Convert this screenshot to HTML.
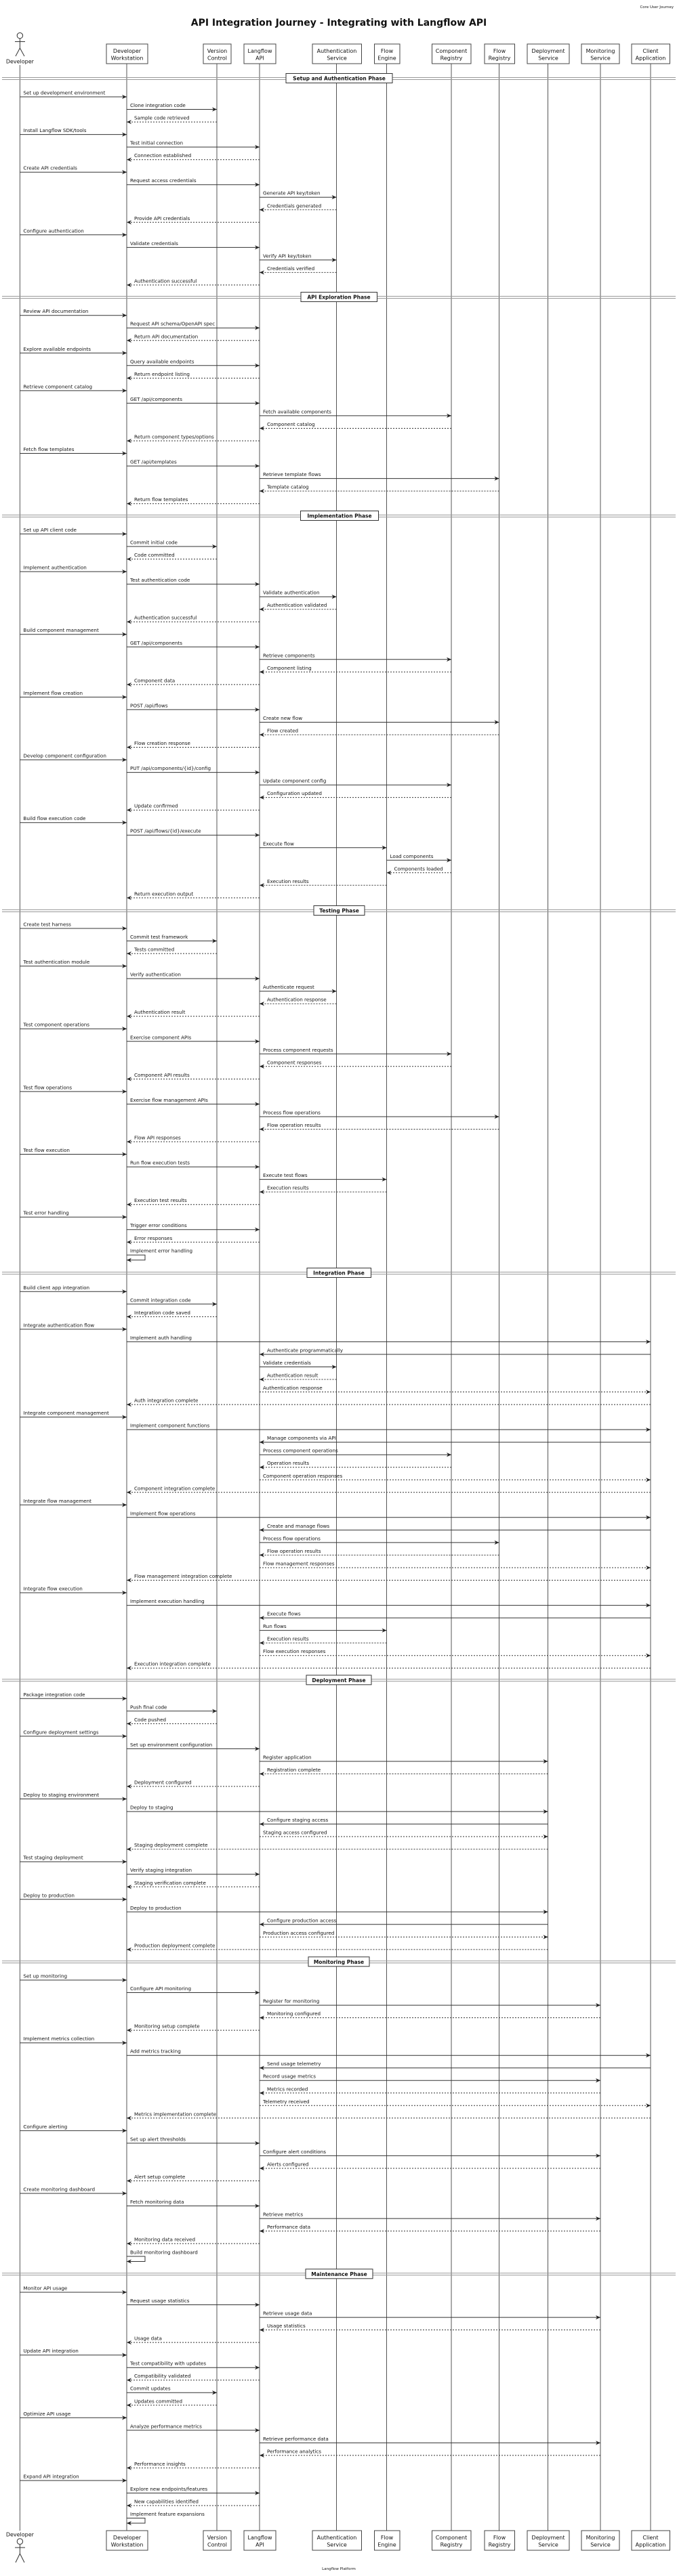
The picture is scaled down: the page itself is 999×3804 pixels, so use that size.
<!DOCTYPE html>
<html><head><meta charset="utf-8"><style>
html,body{margin:0;padding:0;background:#fff;}
svg{display:block;font-family:"DejaVu Sans","Liberation Sans",sans-serif;}
.s{stroke:#333;stroke-width:1;marker-end:url(#a);}
.d{stroke:#333;stroke-width:1;stroke-dasharray:2,2;marker-end:url(#a);}
.ll{stroke:#555;stroke-width:1;}
text{font-size:7.2px;fill:#111;}
.pb{fill:#fff;stroke:#444;stroke-width:1;}
.pt{font-size:8px;text-anchor:middle;}
.sp{stroke:#999;stroke-width:1;}
.sb{fill:#fff;stroke:#333;stroke-width:1;}
.st{font-size:7.5px;font-weight:bold;text-anchor:middle;}
.self{fill:none;stroke:#333;stroke-width:1;marker-end:url(#a);}
</style></head><body>
<svg width="999" height="3804" viewBox="0 0 999 3804" xmlns="http://www.w3.org/2000/svg">
<defs><marker id="a" viewBox="0 0 10 10" refX="10" refY="5" markerWidth="7" markerHeight="7" markerUnits="userSpaceOnUse" orient="auto"><path d="M0,0.5 L10,5 L0,9.5 L3,5 z" fill="#222"/></marker></defs>
<text x="994" y="12" style="font-size:5.5px" text-anchor="end">Core User Journey</text>
<text x="500" y="38" style="font-size:14px;font-weight:bold" text-anchor="middle">API Integration Journey - Integrating with Langflow API</text>

<!-- lifelines -->
<line class="ll" x1="29.4" y1="96" x2="29.4" y2="3737"/>
<line class="ll" x1="187" y1="94" x2="187" y2="3737"/>
<line class="ll" x1="320" y1="94" x2="320" y2="3737"/>
<line class="ll" x1="383" y1="94" x2="383" y2="3737"/>
<line class="ll" x1="496.5" y1="94" x2="496.5" y2="3737"/>
<line class="ll" x1="570.5" y1="94" x2="570.5" y2="3737"/>
<line class="ll" x1="666" y1="94" x2="666" y2="3737"/>
<line class="ll" x1="736.5" y1="94" x2="736.5" y2="3737"/>
<line class="ll" x1="808.5" y1="94" x2="808.5" y2="3737"/>
<line class="ll" x1="886" y1="94" x2="886" y2="3737"/>
<line class="ll" x1="960" y1="94" x2="960" y2="3737"/>

<!-- top participants -->
<g>
<circle cx="29.4" cy="52.6" r="4.2" fill="#fff" stroke="#333"/>
<line x1="29.4" y1="56.8" x2="29.4" y2="71" stroke="#333"/>
<line x1="22" y1="61.5" x2="37" y2="61.5" stroke="#333"/>
<line x1="29.4" y1="71" x2="23" y2="83" stroke="#333"/>
<line x1="29.4" y1="71" x2="36" y2="83" stroke="#333"/>
<text class="pt" x="29.4" y="93.5">Developer</text>
<rect class="pb" x="157" y="65" width="61" height="29"/><text class="pt" x="187.5" y="78">Developer</text><text class="pt" x="187.5" y="88.5">Workstation</text>
<rect class="pb" x="300" y="65" width="41" height="29"/><text class="pt" x="320.5" y="78">Version</text><text class="pt" x="320.5" y="88.5">Control</text>
<rect class="pb" x="360" y="65" width="47" height="29"/><text class="pt" x="383.5" y="78">Langflow</text><text class="pt" x="383.5" y="88.5">API</text>
<rect class="pb" x="461" y="65" width="72.5" height="29"/><text class="pt" x="497" y="78">Authentication</text><text class="pt" x="497" y="88.5">Service</text>
<rect class="pb" x="552.5" y="65" width="37.5" height="29"/><text class="pt" x="571" y="78">Flow</text><text class="pt" x="571" y="88.5">Engine</text>
<rect class="pb" x="637.5" y="65" width="57.5" height="29"/><text class="pt" x="666" y="78">Component</text><text class="pt" x="666" y="88.5">Registry</text>
<rect class="pb" x="715" y="65" width="44.5" height="29"/><text class="pt" x="737" y="78">Flow</text><text class="pt" x="737" y="88.5">Registry</text>
<rect class="pb" x="778" y="65" width="62" height="29"/><text class="pt" x="809" y="78">Deployment</text><text class="pt" x="809" y="88.5">Service</text>
<rect class="pb" x="858" y="65" width="56" height="29"/><text class="pt" x="886" y="78">Monitoring</text><text class="pt" x="886" y="88.5">Service</text>
<rect class="pb" x="932" y="65" width="56.5" height="29"/><text class="pt" x="960" y="78">Client</text><text class="pt" x="960" y="88.5">Application</text>
</g>

<!-- separators -->
<g>
<line class="sp" x1="3" y1="114.5" x2="997" y2="114.5"/><line class="sp" x1="3" y1="117.5" x2="997" y2="117.5"/>
<rect class="sb" x="422" y="108.5" width="157" height="14"/><text class="st" x="500.5" y="118.5">Setup and Authentication Phase</text>
<line class="sp" x1="3" y1="437.5" x2="997" y2="437.5"/><line class="sp" x1="3" y1="440.5" x2="997" y2="440.5"/>
<rect class="sb" x="444" y="431.5" width="112.5" height="14"/><text class="st" x="500" y="441.5">API Exploration Phase</text>
<line class="sp" x1="3" y1="760.5" x2="997" y2="760.5"/><line class="sp" x1="3" y1="763.5" x2="997" y2="763.5"/>
<rect class="sb" x="443.5" y="754.5" width="115" height="14"/><text class="st" x="501" y="764.5">Implementation Phase</text>
<line class="sp" x1="3" y1="1343.5" x2="997" y2="1343.5"/><line class="sp" x1="3" y1="1346.5" x2="997" y2="1346.5"/>
<rect class="sb" x="463" y="1337.5" width="75" height="14"/><text class="st" x="500.5" y="1347.5">Testing Phase</text>
<line class="sp" x1="3" y1="1878.5" x2="997" y2="1878.5"/><line class="sp" x1="3" y1="1881.5" x2="997" y2="1881.5"/>
<rect class="sb" x="453" y="1872.5" width="94.5" height="14"/><text class="st" x="500" y="1882.5">Integration Phase</text>
<line class="sp" x1="3" y1="2479.8" x2="997" y2="2479.8"/><line class="sp" x1="3" y1="2482.8" x2="997" y2="2482.8"/>
<rect class="sb" x="452" y="2473.8" width="96" height="14"/><text class="st" x="500" y="2483.8">Deployment Phase</text>
<line class="sp" x1="3" y1="2895.8" x2="997" y2="2895.8"/><line class="sp" x1="3" y1="2898.8" x2="997" y2="2898.8"/>
<rect class="sb" x="455" y="2889.8" width="90" height="14"/><text class="st" x="500" y="2899.8">Monitoring Phase</text>
<line class="sp" x1="3" y1="3356.8" x2="997" y2="3356.8"/><line class="sp" x1="3" y1="3359.8" x2="997" y2="3359.8"/>
<rect class="sb" x="451" y="3350.8" width="99" height="14"/><text class="st" x="500.5" y="3360.8">Maintenance Phase</text>
</g>

<!-- Setup -->
<line class="s" x1="29.4" y1="143" x2="187" y2="143"/><text x="34.4" y="139.5">Set up development environment</text>
<line class="s" x1="187" y1="161.5" x2="320" y2="161.5"/><text x="192" y="158">Clone integration code</text>
<line class="d" x1="320" y1="180.1" x2="187" y2="180.1"/><text x="198" y="176.6">Sample code retrieved</text>
<line class="s" x1="29.4" y1="198.6" x2="187" y2="198.6"/><text x="34.4" y="195.1">Install Langflow SDK/tools</text>
<line class="s" x1="187" y1="217.1" x2="383" y2="217.1"/><text x="192" y="213.6">Test initial connection</text>
<line class="d" x1="383" y1="235.7" x2="187" y2="235.7"/><text x="198" y="232.2">Connection established</text>
<line class="s" x1="29.4" y1="254.2" x2="187" y2="254.2"/><text x="34.4" y="250.7">Create API credentials</text>
<line class="s" x1="187" y1="272.7" x2="383" y2="272.7"/><text x="192" y="269.2">Request access credentials</text>
<line class="s" x1="383" y1="291.2" x2="496.5" y2="291.2"/><text x="388" y="287.7">Generate API key/token</text>
<line class="d" x1="496.5" y1="309.8" x2="383" y2="309.8"/><text x="394" y="306.3">Credentials generated</text>
<line class="d" x1="383" y1="328.3" x2="187" y2="328.3"/><text x="198" y="324.8">Provide API credentials</text>
<line class="s" x1="29.4" y1="346.8" x2="187" y2="346.8"/><text x="34.4" y="343.3">Configure authentication</text>
<line class="s" x1="187" y1="365.4" x2="383" y2="365.4"/><text x="192" y="361.9">Validate credentials</text>
<line class="s" x1="383" y1="383.9" x2="496.5" y2="383.9"/><text x="388" y="380.4">Verify API key/token</text>
<line class="d" x1="496.5" y1="402.4" x2="383" y2="402.4"/><text x="394" y="398.9">Credentials verified</text>
<line class="d" x1="383" y1="420.9" x2="187" y2="420.9"/><text x="198" y="417.4">Authentication successful</text>

<!-- Exploration -->
<line class="s" x1="29.4" y1="465.7" x2="187" y2="465.7"/><text x="34.4" y="462.2">Review API documentation</text>
<line class="s" x1="187" y1="484.2" x2="383" y2="484.2"/><text x="192" y="480.7">Request API schema/OpenAPI spec</text>
<line class="d" x1="383" y1="502.8" x2="187" y2="502.8"/><text x="198" y="499.3">Return API documentation</text>
<line class="s" x1="29.4" y1="521.3" x2="187" y2="521.3"/><text x="34.4" y="517.8">Explore available endpoints</text>
<line class="s" x1="187" y1="539.8" x2="383" y2="539.8"/><text x="192" y="536.3">Query available endpoints</text>
<line class="d" x1="383" y1="558.4" x2="187" y2="558.4"/><text x="198" y="554.9">Return endpoint listing</text>
<line class="s" x1="29.4" y1="576.9" x2="187" y2="576.9"/><text x="34.4" y="573.4">Retrieve component catalog</text>
<line class="s" x1="187" y1="595.4" x2="383" y2="595.4"/><text x="192" y="591.9">GET /api/components</text>
<line class="s" x1="383" y1="613.9" x2="666" y2="613.9"/><text x="388" y="610.4">Fetch available components</text>
<line class="d" x1="666" y1="632.5" x2="383" y2="632.5"/><text x="394" y="629">Component catalog</text>
<line class="d" x1="383" y1="651" x2="187" y2="651"/><text x="198" y="647.5">Return component types/options</text>
<line class="s" x1="29.4" y1="669.5" x2="187" y2="669.5"/><text x="34.4" y="666">Fetch flow templates</text>
<line class="s" x1="187" y1="688.1" x2="383" y2="688.1"/><text x="192" y="684.6">GET /api/templates</text>
<line class="s" x1="383" y1="706.6" x2="736.5" y2="706.6"/><text x="388" y="703.1">Retrieve template flows</text>
<line class="d" x1="736.5" y1="725.1" x2="383" y2="725.1"/><text x="394" y="721.6">Template catalog</text>
<line class="d" x1="383" y1="743.7" x2="187" y2="743.7"/><text x="198" y="740.2">Return flow templates</text>

<!-- Implementation -->
<line class="s" x1="29.4" y1="788.5" x2="187" y2="788.5"/><text x="34.4" y="785">Set up API client code</text>
<line class="s" x1="187" y1="807" x2="320" y2="807"/><text x="192" y="803.5">Commit initial code</text>
<line class="d" x1="320" y1="825.6" x2="187" y2="825.6"/><text x="198" y="822.1">Code committed</text>
<line class="s" x1="29.4" y1="844.1" x2="187" y2="844.1"/><text x="34.4" y="840.6">Implement authentication</text>
<line class="s" x1="187" y1="862.6" x2="383" y2="862.6"/><text x="192" y="859.1">Test authentication code</text>
<line class="s" x1="383" y1="881.2" x2="496.5" y2="881.2"/><text x="388" y="877.7">Validate authentication</text>
<line class="d" x1="496.5" y1="899.7" x2="383" y2="899.7"/><text x="394" y="896.2">Authentication validated</text>
<line class="d" x1="383" y1="918.2" x2="187" y2="918.2"/><text x="198" y="914.7">Authentication successful</text>
<line class="s" x1="29.4" y1="936.7" x2="187" y2="936.7"/><text x="34.4" y="933.2">Build component management</text>
<line class="s" x1="187" y1="955.3" x2="383" y2="955.3"/><text x="192" y="951.8">GET /api/components</text>
<line class="s" x1="383" y1="973.8" x2="666" y2="973.8"/><text x="388" y="970.3">Retrieve components</text>
<line class="d" x1="666" y1="992.3" x2="383" y2="992.3"/><text x="394" y="988.8">Component listing</text>
<line class="d" x1="383" y1="1010.9" x2="187" y2="1010.9"/><text x="198" y="1007.4">Component data</text>
<line class="s" x1="29.4" y1="1029.4" x2="187" y2="1029.4"/><text x="34.4" y="1025.9">Implement flow creation</text>
<line class="s" x1="187" y1="1047.9" x2="383" y2="1047.9"/><text x="192" y="1044.4">POST /api/flows</text>
<line class="s" x1="383" y1="1066.5" x2="736.5" y2="1066.5"/><text x="388" y="1063">Create new flow</text>
<line class="d" x1="736.5" y1="1085" x2="383" y2="1085"/><text x="394" y="1081.5">Flow created</text>
<line class="d" x1="383" y1="1103.5" x2="187" y2="1103.5"/><text x="198" y="1100">Flow creation response</text>
<line class="s" x1="29.4" y1="1122" x2="187" y2="1122"/><text x="34.4" y="1118.5">Develop component configuration</text>
<line class="s" x1="187" y1="1140.6" x2="383" y2="1140.6"/><text x="192" y="1137.1">PUT /api/components/{id}/config</text>
<line class="s" x1="383" y1="1159.1" x2="666" y2="1159.1"/><text x="388" y="1155.6">Update component config</text>
<line class="d" x1="666" y1="1177.6" x2="383" y2="1177.6"/><text x="394" y="1174.1">Configuration updated</text>
<line class="d" x1="383" y1="1196.2" x2="187" y2="1196.2"/><text x="198" y="1192.7">Update confirmed</text>
<line class="s" x1="29.4" y1="1214.7" x2="187" y2="1214.7"/><text x="34.4" y="1211.2">Build flow execution code</text>
<line class="s" x1="187" y1="1233.2" x2="383" y2="1233.2"/><text x="192" y="1229.7">POST /api/flows/{id}/execute</text>
<line class="s" x1="383" y1="1251.8" x2="570.5" y2="1251.8"/><text x="388" y="1248.3">Execute flow</text>
<line class="s" x1="570.5" y1="1270.3" x2="666" y2="1270.3"/><text x="575.5" y="1266.8">Load components</text>
<line class="d" x1="666" y1="1288.8" x2="570.5" y2="1288.8"/><text x="581.5" y="1285.3">Components loaded</text>
<line class="d" x1="570.5" y1="1307.3" x2="383" y2="1307.3"/><text x="394" y="1303.8">Execution results</text>
<line class="d" x1="383" y1="1325.9" x2="187" y2="1325.9"/><text x="198" y="1322.4">Return execution output</text>

<!-- Testing -->
<line class="s" x1="29.4" y1="1371" x2="187" y2="1371"/><text x="34.4" y="1367.5">Create test harness</text>
<line class="s" x1="187" y1="1389.5" x2="320" y2="1389.5"/><text x="192" y="1386">Commit test framework</text>
<line class="d" x1="320" y1="1408.1" x2="187" y2="1408.1"/><text x="198" y="1404.6">Tests committed</text>
<line class="s" x1="29.4" y1="1426.6" x2="187" y2="1426.6"/><text x="34.4" y="1423.1">Test authentication module</text>
<line class="s" x1="187" y1="1445.1" x2="383" y2="1445.1"/><text x="192" y="1441.6">Verify authentication</text>
<line class="s" x1="383" y1="1463.7" x2="496.5" y2="1463.7"/><text x="388" y="1460.2">Authenticate request</text>
<line class="d" x1="496.5" y1="1482.2" x2="383" y2="1482.2"/><text x="394" y="1478.7">Authentication response</text>
<line class="d" x1="383" y1="1500.7" x2="187" y2="1500.7"/><text x="198" y="1497.2">Authentication result</text>
<line class="s" x1="29.4" y1="1519.2" x2="187" y2="1519.2"/><text x="34.4" y="1515.7">Test component operations</text>
<line class="s" x1="187" y1="1537.8" x2="383" y2="1537.8"/><text x="192" y="1534.3">Exercise component APIs</text>
<line class="s" x1="383" y1="1556.3" x2="666" y2="1556.3"/><text x="388" y="1552.8">Process component requests</text>
<line class="d" x1="666" y1="1574.8" x2="383" y2="1574.8"/><text x="394" y="1571.3">Component responses</text>
<line class="d" x1="383" y1="1593.4" x2="187" y2="1593.4"/><text x="198" y="1589.9">Component API results</text>
<line class="s" x1="29.4" y1="1611.9" x2="187" y2="1611.9"/><text x="34.4" y="1608.4">Test flow operations</text>
<line class="s" x1="187" y1="1630.4" x2="383" y2="1630.4"/><text x="192" y="1626.9">Exercise flow management APIs</text>
<line class="s" x1="383" y1="1649" x2="736.5" y2="1649"/><text x="388" y="1645.5">Process flow operations</text>
<line class="d" x1="736.5" y1="1667.5" x2="383" y2="1667.5"/><text x="394" y="1664">Flow operation results</text>
<line class="d" x1="383" y1="1686" x2="187" y2="1686"/><text x="198" y="1682.5">Flow API responses</text>
<line class="s" x1="29.4" y1="1704.5" x2="187" y2="1704.5"/><text x="34.4" y="1701">Test flow execution</text>
<line class="s" x1="187" y1="1723.1" x2="383" y2="1723.1"/><text x="192" y="1719.6">Run flow execution tests</text>
<line class="s" x1="383" y1="1741.6" x2="570.5" y2="1741.6"/><text x="388" y="1738.1">Execute test flows</text>
<line class="d" x1="570.5" y1="1760.1" x2="383" y2="1760.1"/><text x="394" y="1756.6">Execution results</text>
<line class="d" x1="383" y1="1778.7" x2="187" y2="1778.7"/><text x="198" y="1775.2">Execution test results</text>
<line class="s" x1="29.4" y1="1797.2" x2="187" y2="1797.2"/><text x="34.4" y="1793.7">Test error handling</text>
<line class="s" x1="187" y1="1815.7" x2="383" y2="1815.7"/><text x="192" y="1812.2">Trigger error conditions</text>
<line class="d" x1="383" y1="1834.3" x2="187" y2="1834.3"/><text x="198" y="1830.8">Error responses</text>
<text x="192" y="1849.5">Implement error handling</text>
<path class="self" d="M187,1853.3 H214 V1860.8 H187"/>

<!-- Integration -->
<line class="s" x1="29.4" y1="1907.3" x2="187" y2="1907.3"/><text x="34.4" y="1903.8">Build client app integration</text>
<line class="s" x1="187" y1="1925.8" x2="320" y2="1925.8"/><text x="192" y="1922.3">Commit integration code</text>
<line class="d" x1="320" y1="1944.4" x2="187" y2="1944.4"/><text x="198" y="1940.9">Integration code saved</text>
<line class="s" x1="29.4" y1="1962.9" x2="187" y2="1962.9"/><text x="34.4" y="1959.4">Integrate authentication flow</text>
<line class="s" x1="187" y1="1981.4" x2="960" y2="1981.4"/><text x="192" y="1977.9">Implement auth handling</text>
<line class="s" x1="960" y1="2000" x2="383" y2="2000"/><text x="394" y="1996.5">Authenticate programmatically</text>
<line class="s" x1="383" y1="2018.5" x2="496.5" y2="2018.5"/><text x="388" y="2015">Validate credentials</text>
<line class="d" x1="496.5" y1="2037" x2="383" y2="2037"/><text x="394" y="2033.5">Authentication result</text>
<line class="d" x1="383" y1="2055.5" x2="960" y2="2055.5"/><text x="388" y="2052">Authentication response</text>
<line class="d" x1="960" y1="2074.1" x2="187" y2="2074.1"/><text x="198" y="2070.6">Auth integration complete</text>
<line class="s" x1="29.4" y1="2092.6" x2="187" y2="2092.6"/><text x="34.4" y="2089.1">Integrate component management</text>
<line class="s" x1="187" y1="2111.1" x2="960" y2="2111.1"/><text x="192" y="2107.6">Implement component functions</text>
<line class="s" x1="960" y1="2129.7" x2="383" y2="2129.7"/><text x="394" y="2126.2">Manage components via API</text>
<line class="s" x1="383" y1="2148.2" x2="666" y2="2148.2"/><text x="388" y="2144.7">Process component operations</text>
<line class="d" x1="666" y1="2166.7" x2="383" y2="2166.7"/><text x="394" y="2163.2">Operation results</text>
<line class="d" x1="383" y1="2185.3" x2="960" y2="2185.3"/><text x="388" y="2181.8">Component operation responses</text>
<line class="d" x1="960" y1="2203.8" x2="187" y2="2203.8"/><text x="198" y="2200.3">Component integration complete</text>
<line class="s" x1="29.4" y1="2222.3" x2="187" y2="2222.3"/><text x="34.4" y="2218.8">Integrate flow management</text>
<line class="s" x1="187" y1="2240.8" x2="960" y2="2240.8"/><text x="192" y="2237.3">Implement flow operations</text>
<line class="s" x1="960" y1="2259.4" x2="383" y2="2259.4"/><text x="394" y="2255.9">Create and manage flows</text>
<line class="s" x1="383" y1="2277.9" x2="736.5" y2="2277.9"/><text x="388" y="2274.4">Process flow operations</text>
<line class="d" x1="736.5" y1="2296.4" x2="383" y2="2296.4"/><text x="394" y="2292.9">Flow operation results</text>
<line class="d" x1="383" y1="2315" x2="960" y2="2315"/><text x="388" y="2311.5">Flow management responses</text>
<line class="d" x1="960" y1="2333.5" x2="187" y2="2333.5"/><text x="198" y="2330">Flow management integration complete</text>
<line class="s" x1="29.4" y1="2352" x2="187" y2="2352"/><text x="34.4" y="2348.5">Integrate flow execution</text>
<line class="s" x1="187" y1="2370.6" x2="960" y2="2370.6"/><text x="192" y="2367.1">Implement execution handling</text>
<line class="s" x1="960" y1="2389.1" x2="383" y2="2389.1"/><text x="394" y="2385.6">Execute flows</text>
<line class="s" x1="383" y1="2407.6" x2="570.5" y2="2407.6"/><text x="388" y="2404.1">Run flows</text>
<line class="d" x1="570.5" y1="2426.1" x2="383" y2="2426.1"/><text x="394" y="2422.6">Execution results</text>
<line class="d" x1="383" y1="2444.7" x2="960" y2="2444.7"/><text x="388" y="2441.2">Flow execution responses</text>
<line class="d" x1="960" y1="2463.2" x2="187" y2="2463.2"/><text x="198" y="2459.7">Execution integration complete</text>

<!-- Deployment -->
<line class="s" x1="29.4" y1="2508.3" x2="187" y2="2508.3"/><text x="34.4" y="2504.8">Package integration code</text>
<line class="s" x1="187" y1="2526.8" x2="320" y2="2526.8"/><text x="192" y="2523.3">Push final code</text>
<line class="d" x1="320" y1="2545.4" x2="187" y2="2545.4"/><text x="198" y="2541.9">Code pushed</text>
<line class="s" x1="29.4" y1="2563.9" x2="187" y2="2563.9"/><text x="34.4" y="2560.4">Configure deployment settings</text>
<line class="s" x1="187" y1="2582.4" x2="383" y2="2582.4"/><text x="192" y="2578.9">Set up environment configuration</text>
<line class="s" x1="383" y1="2601" x2="808.5" y2="2601"/><text x="388" y="2597.5">Register application</text>
<line class="d" x1="808.5" y1="2619.5" x2="383" y2="2619.5"/><text x="394" y="2616">Registration complete</text>
<line class="d" x1="383" y1="2638" x2="187" y2="2638"/><text x="198" y="2634.5">Deployment configured</text>
<line class="s" x1="29.4" y1="2656.5" x2="187" y2="2656.5"/><text x="34.4" y="2653">Deploy to staging environment</text>
<line class="s" x1="187" y1="2675.1" x2="808.5" y2="2675.1"/><text x="192" y="2671.6">Deploy to staging</text>
<line class="s" x1="808.5" y1="2693.6" x2="383" y2="2693.6"/><text x="394" y="2690.1">Configure staging access</text>
<line class="d" x1="383" y1="2712.1" x2="808.5" y2="2712.1"/><text x="388" y="2708.6">Staging access configured</text>
<line class="d" x1="808.5" y1="2730.7" x2="187" y2="2730.7"/><text x="198" y="2727.2">Staging deployment complete</text>
<line class="s" x1="29.4" y1="2749.2" x2="187" y2="2749.2"/><text x="34.4" y="2745.7">Test staging deployment</text>
<line class="s" x1="187" y1="2767.7" x2="383" y2="2767.7"/><text x="192" y="2764.2">Verify staging integration</text>
<line class="d" x1="383" y1="2786.3" x2="187" y2="2786.3"/><text x="198" y="2782.8">Staging verification complete</text>
<line class="s" x1="29.4" y1="2804.8" x2="187" y2="2804.8"/><text x="34.4" y="2801.3">Deploy to production</text>
<line class="s" x1="187" y1="2823.3" x2="808.5" y2="2823.3"/><text x="192" y="2819.8">Deploy to production</text>
<line class="s" x1="808.5" y1="2841.8" x2="383" y2="2841.8"/><text x="394" y="2838.3">Configure production access</text>
<line class="d" x1="383" y1="2860.4" x2="808.5" y2="2860.4"/><text x="388" y="2856.9">Production access configured</text>
<line class="d" x1="808.5" y1="2878.9" x2="187" y2="2878.9"/><text x="198" y="2875.4">Production deployment complete</text>

<!-- Monitoring -->
<line class="s" x1="29.4" y1="2924" x2="187" y2="2924"/><text x="34.4" y="2920.5">Set up monitoring</text>
<line class="s" x1="187" y1="2942.5" x2="383" y2="2942.5"/><text x="192" y="2939">Configure API monitoring</text>
<line class="s" x1="383" y1="2961.1" x2="886" y2="2961.1"/><text x="388" y="2957.6">Register for monitoring</text>
<line class="d" x1="886" y1="2979.6" x2="383" y2="2979.6"/><text x="394" y="2976.1">Monitoring configured</text>
<line class="d" x1="383" y1="2998.1" x2="187" y2="2998.1"/><text x="198" y="2994.6">Monitoring setup complete</text>
<line class="s" x1="29.4" y1="3016.7" x2="187" y2="3016.7"/><text x="34.4" y="3013.2">Implement metrics collection</text>
<line class="s" x1="187" y1="3035.2" x2="960" y2="3035.2"/><text x="192" y="3031.7">Add metrics tracking</text>
<line class="s" x1="960" y1="3053.7" x2="383" y2="3053.7"/><text x="394" y="3050.2">Send usage telemetry</text>
<line class="s" x1="383" y1="3072.2" x2="886" y2="3072.2"/><text x="388" y="3068.7">Record usage metrics</text>
<line class="d" x1="886" y1="3090.8" x2="383" y2="3090.8"/><text x="394" y="3087.3">Metrics recorded</text>
<line class="d" x1="383" y1="3109.3" x2="960" y2="3109.3"/><text x="388" y="3105.8">Telemetry received</text>
<line class="d" x1="960" y1="3127.8" x2="187" y2="3127.8"/><text x="198" y="3124.3">Metrics implementation complete</text>
<line class="s" x1="29.4" y1="3146.4" x2="187" y2="3146.4"/><text x="34.4" y="3142.9">Configure alerting</text>
<line class="s" x1="187" y1="3164.9" x2="383" y2="3164.9"/><text x="192" y="3161.4">Set up alert thresholds</text>
<line class="s" x1="383" y1="3183.4" x2="886" y2="3183.4"/><text x="388" y="3179.9">Configure alert conditions</text>
<line class="d" x1="886" y1="3202" x2="383" y2="3202"/><text x="394" y="3198.5">Alerts configured</text>
<line class="d" x1="383" y1="3220.5" x2="187" y2="3220.5"/><text x="198" y="3217">Alert setup complete</text>
<line class="s" x1="29.4" y1="3239" x2="187" y2="3239"/><text x="34.4" y="3235.5">Create monitoring dashboard</text>
<line class="s" x1="187" y1="3257.5" x2="383" y2="3257.5"/><text x="192" y="3254">Fetch monitoring data</text>
<line class="s" x1="383" y1="3276.1" x2="886" y2="3276.1"/><text x="388" y="3272.6">Retrieve metrics</text>
<line class="d" x1="886" y1="3294.6" x2="383" y2="3294.6"/><text x="394" y="3291.1">Performance data</text>
<line class="d" x1="383" y1="3313.1" x2="187" y2="3313.1"/><text x="198" y="3309.6">Monitoring data received</text>
<text x="192" y="3328.4">Build monitoring dashboard</text>
<path class="self" d="M187,3332 H214 V3339.5 H187"/>

<!-- Maintenance -->
<line class="s" x1="29.4" y1="3385" x2="187" y2="3385"/><text x="34.4" y="3381.5">Monitor API usage</text>
<line class="s" x1="187" y1="3403.5" x2="383" y2="3403.5"/><text x="192" y="3400">Request usage statistics</text>
<line class="s" x1="383" y1="3422.1" x2="886" y2="3422.1"/><text x="388" y="3418.6">Retrieve usage data</text>
<line class="d" x1="886" y1="3440.6" x2="383" y2="3440.6"/><text x="394" y="3437.1">Usage statistics</text>
<line class="d" x1="383" y1="3459.1" x2="187" y2="3459.1"/><text x="198" y="3455.6">Usage data</text>
<line class="s" x1="29.4" y1="3477.7" x2="187" y2="3477.7"/><text x="34.4" y="3474.2">Update API integration</text>
<line class="s" x1="187" y1="3496.2" x2="383" y2="3496.2"/><text x="192" y="3492.7">Test compatibility with updates</text>
<line class="d" x1="383" y1="3514.7" x2="187" y2="3514.7"/><text x="198" y="3511.2">Compatibility validated</text>
<line class="s" x1="187" y1="3533.2" x2="320" y2="3533.2"/><text x="192" y="3529.7">Commit updates</text>
<line class="d" x1="320" y1="3551.8" x2="187" y2="3551.8"/><text x="198" y="3548.3">Updates committed</text>
<line class="s" x1="29.4" y1="3570.3" x2="187" y2="3570.3"/><text x="34.4" y="3566.8">Optimize API usage</text>
<line class="s" x1="187" y1="3588.8" x2="383" y2="3588.8"/><text x="192" y="3585.3">Analyze performance metrics</text>
<line class="s" x1="383" y1="3607.4" x2="886" y2="3607.4"/><text x="388" y="3603.9">Retrieve performance data</text>
<line class="d" x1="886" y1="3625.9" x2="383" y2="3625.9"/><text x="394" y="3622.4">Performance analytics</text>
<line class="d" x1="383" y1="3644.4" x2="187" y2="3644.4"/><text x="198" y="3640.9">Performance insights</text>
<line class="s" x1="29.4" y1="3663" x2="187" y2="3663"/><text x="34.4" y="3659.5">Expand API integration</text>
<line class="s" x1="187" y1="3681.5" x2="383" y2="3681.5"/><text x="192" y="3678">Explore new endpoints/features</text>
<line class="d" x1="383" y1="3700" x2="187" y2="3700"/><text x="198" y="3696.5">New capabilities identified</text>
<text x="192" y="3715">Implement feature expansions</text>
<path class="self" d="M187,3718.5 H214 V3726 H187"/>

<!-- bottom participants -->
<g>
<text class="pt" x="29.4" y="3745.5">Developer</text>
<circle cx="29.4" cy="3753" r="4.2" fill="#fff" stroke="#333"/>
<line x1="29.4" y1="3757.2" x2="29.4" y2="3771" stroke="#333"/>
<line x1="22" y1="3762" x2="37" y2="3762" stroke="#333"/>
<line x1="29.4" y1="3771" x2="23" y2="3784" stroke="#333"/>
<line x1="29.4" y1="3771" x2="36" y2="3784" stroke="#333"/>
<rect class="pb" x="157" y="3737" width="61" height="29"/><text class="pt" x="187.5" y="3750">Developer</text><text class="pt" x="187.5" y="3760.5">Workstation</text>
<rect class="pb" x="300" y="3737" width="41" height="29"/><text class="pt" x="320.5" y="3750">Version</text><text class="pt" x="320.5" y="3760.5">Control</text>
<rect class="pb" x="360" y="3737" width="47" height="29"/><text class="pt" x="383.5" y="3750">Langflow</text><text class="pt" x="383.5" y="3760.5">API</text>
<rect class="pb" x="461" y="3737" width="72.5" height="29"/><text class="pt" x="497" y="3750">Authentication</text><text class="pt" x="497" y="3760.5">Service</text>
<rect class="pb" x="552.5" y="3737" width="37.5" height="29"/><text class="pt" x="571" y="3750">Flow</text><text class="pt" x="571" y="3760.5">Engine</text>
<rect class="pb" x="637.5" y="3737" width="57.5" height="29"/><text class="pt" x="666" y="3750">Component</text><text class="pt" x="666" y="3760.5">Registry</text>
<rect class="pb" x="715" y="3737" width="44.5" height="29"/><text class="pt" x="737" y="3750">Flow</text><text class="pt" x="737" y="3760.5">Registry</text>
<rect class="pb" x="778" y="3737" width="62" height="29"/><text class="pt" x="809" y="3750">Deployment</text><text class="pt" x="809" y="3760.5">Service</text>
<rect class="pb" x="858" y="3737" width="56" height="29"/><text class="pt" x="886" y="3750">Monitoring</text><text class="pt" x="886" y="3760.5">Service</text>
<rect class="pb" x="932" y="3737" width="56.5" height="29"/><text class="pt" x="960" y="3750">Client</text><text class="pt" x="960" y="3760.5">Application</text>
</g>
<text x="500" y="3795" style="font-size:5.5px" text-anchor="middle">Langflow Platform</text>
</svg>
</body></html>
